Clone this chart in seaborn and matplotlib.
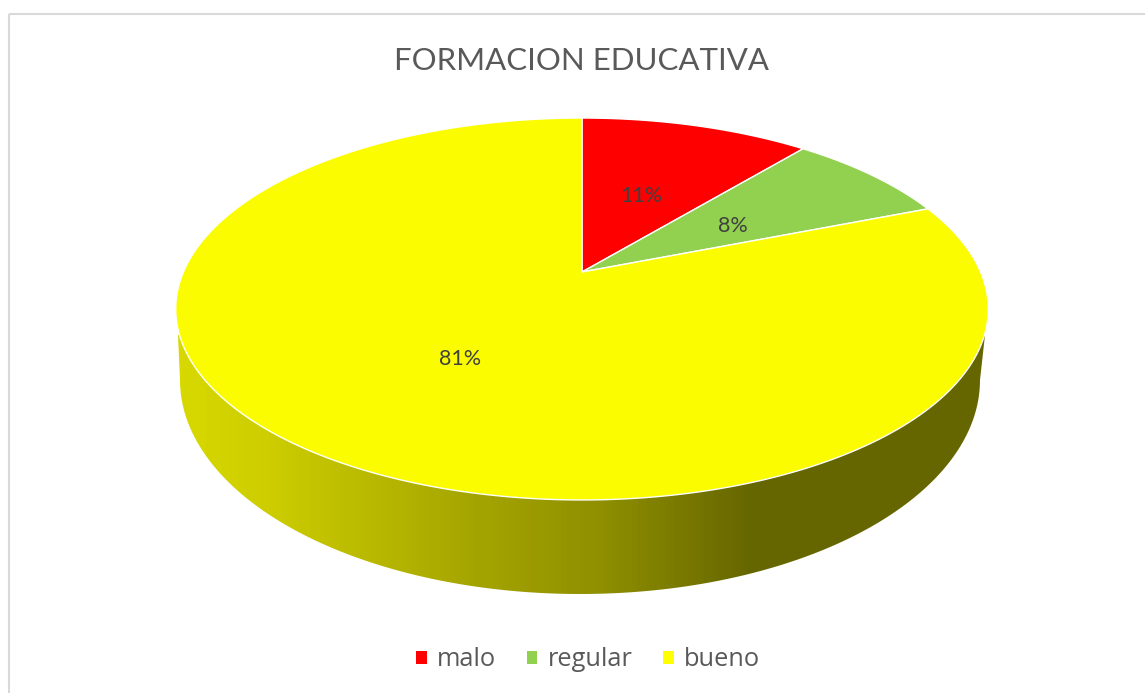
import numpy as np
import matplotlib
matplotlib.use("Agg")
import matplotlib.pyplot as plt
import seaborn as sns
from matplotlib.patches import Patch, Polygon, Rectangle
from matplotlib.path import Path
from matplotlib.transforms import Affine2D, Transform

categories = ["malo", "regular", "bueno"]
values = [11, 8, 81]
colors = ["#FF0000", "#92D050", "#FCFC00"]
legend_colors = ["#FF0000", "#92D050", "#FFFF00"]
title = "FORMACION EDUCATIVA"

# the whole axes is in picture pixels, so the layout below reads directly
WIDTH, HEIGHT = 1145, 693
APEX_X, APEX_Y = 582, 272
PERSP_A, PERSP_B, PERSP_K = 398.6, 183.8, 0.1937
LABEL_POS = [(641, 196.5), (733, 225.5), (460, 359)]


class TiltTransform(Transform):
    # puts the unit circle of the pie on the tilted top face
    input_dims = 2
    output_dims = 2
    is_affine = False
    has_inverse = False

    def transform_non_affine(self, values):
        xy = np.asarray(values, dtype=float)
        den = 1 + PERSP_K * xy[:, 1]
        return np.column_stack(
            [APEX_X + PERSP_A * xy[:, 0] / den, APEX_Y - PERSP_B * xy[:, 1] / den]
        )

    def transform_path_non_affine(self, path):
        big = path.transformed(Affine2D().scale(1000))
        poly = big.to_polygons(closed_only=False)[0] / 1000
        return Path(self.transform_non_affine(poly))


sns.set_theme(style="white")
plt.rcParams["font.family"] = ["Lato", "DejaVu Sans"]

fig = plt.figure(figsize=(WIDTH / 100, HEIGHT / 100), dpi=100)
ax = fig.add_axes([0, 0, 1, 1])

# side wall of the disc
theta = np.linspace(np.pi, 0, 200)
wall_x = 580 + 400 * np.cos(theta)
wall_y = 380 + 214 * np.sin(theta)
wall_pts = np.column_stack(
    [np.r_[178, wall_x, 985], np.r_[335, wall_y, 335]]
)
shade = np.interp(np.arange(170, 1000), [170, 270, 450, 600, 750, 1000],
                  [0.85, 0.80, 0.66, 0.56, 0.40, 0.40])
wall_cmap = sns.blend_palette(["#000000", "#FFFF00"], as_cmap=True)
img = ax.imshow(shade[np.newaxis, :], cmap=wall_cmap, vmin=0, vmax=1,
                extent=(170, 1000, 600, 330), aspect="auto", zorder=1)
clip = Polygon(wall_pts, closed=True, transform=ax.transData,
               facecolor="none", edgecolor="none")
ax.add_patch(clip)
img.set_clip_path(clip)

# top face
wedges, _, pct = ax.pie(values, colors=colors, startangle=90, counterclock=False,
                        autopct="%.0f%%", wedgeprops=dict(edgecolor="white", linewidth=1))
tilt = TiltTransform() + ax.transData
for w in wedges:
    w.set_transform(tilt)
    w.set_zorder(2)
for t, pos in zip(pct, LABEL_POS):
    t.set_position(pos)
    t.set_ha("center")
    t.set_va("center")
    t.set_fontsize(15.5)
    t.set_color("#404040")
    t.set_zorder(3)

ax.set_aspect("auto")
ax.set_xlim(0, WIDTH)
ax.set_ylim(HEIGHT, 0)
ax.set_xticks([])
ax.set_yticks([])
ax.set_frame_on(False)

ax.text(582, 61, title, ha="center", va="center", fontsize=22.4, color="#595959")

handles = [Patch(facecolor=c, edgecolor="none") for c in legend_colors]
ax.legend(handles, categories, ncol=3, loc="center", bbox_to_anchor=(588, 660),
          bbox_transform=ax.transData, frameon=False,
          prop=dict(family="Open Sans", size=18.3), labelcolor="#595959",
          handlelength=0.43, handleheight=0.43, handletextpad=0.4, columnspacing=1.2)

ax.add_patch(Rectangle((9, 14), 1140, 690, facecolor="none", edgecolor="#D9D9D9",
                       linewidth=1.5, zorder=0))

fig.savefig("out.png", dpi=100)
